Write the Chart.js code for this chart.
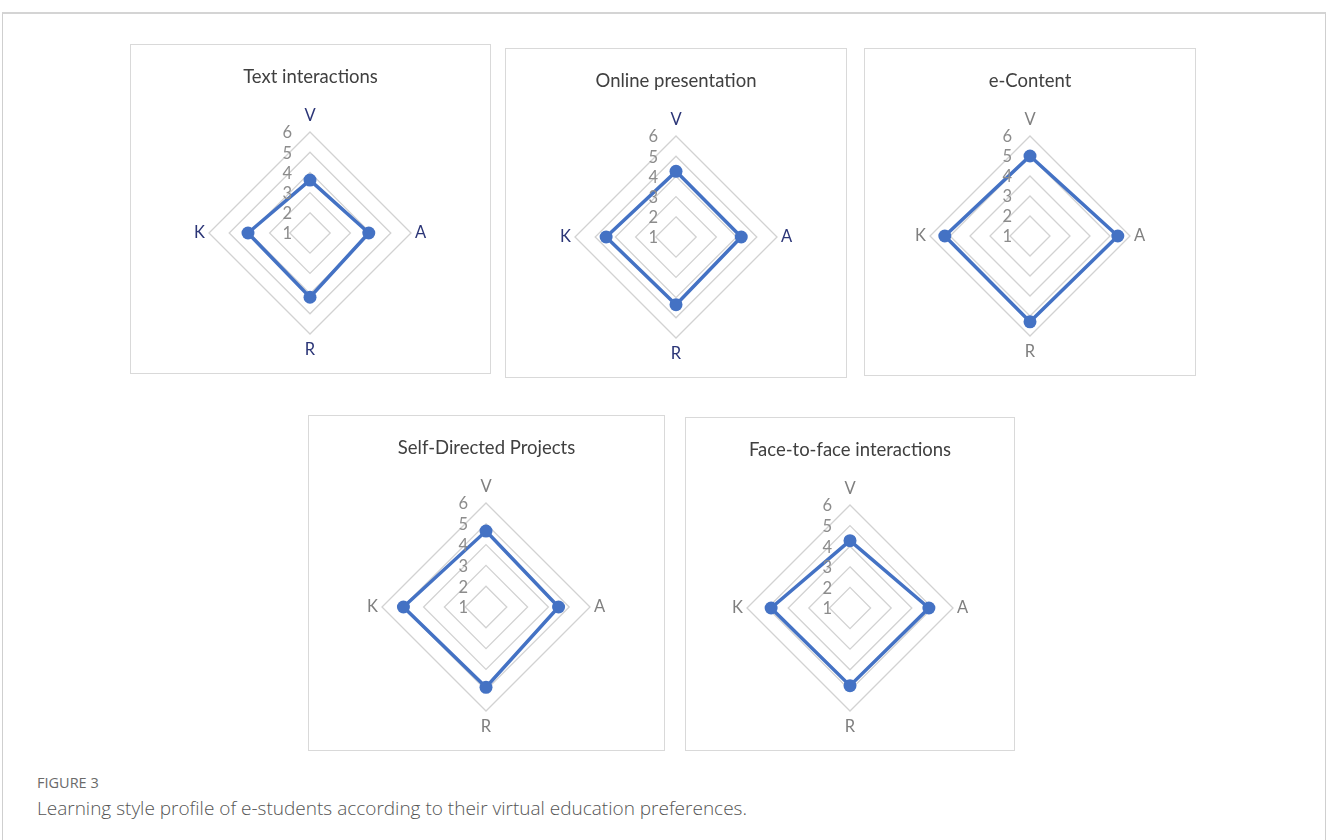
<!DOCTYPE html>
<html>
<head>
<meta charset="utf-8">
<script src="https://cdn.jsdelivr.net/npm/chart.js@4/dist/chart.umd.min.js"></script>
<style>
  body { margin: 0; background: #fff; width: 1328px; height: 840px; overflow: hidden; position: relative; }
  #frame { position: absolute; left: 2px; top: 12px; width: 1322px; height: 900px; border: 1px solid #cfcfcf; border-top: 2px solid #d4d4d4; }
  .panel { position: absolute; border: 1px solid #d9d9d9; background: #fff; }
  .panel canvas { display: block; }
  #figlabel { position: absolute; left: 37px; top: 773px; font-family: "Open Sans", sans-serif; font-size: 14.5px; color: #6a6a6a; }
  #caption { position: absolute; left: 37px; top: 795px; font-family: "Open Sans", sans-serif; font-size: 19px; font-weight: 300; color: #555; }
</style>
</head>
<body>
<div id="frame"></div>
<div id="figlabel">FIGURE 3</div>
<div id="caption">Learning style profile of e-students according to their virtual education preferences.</div>
<script>
// axis labels (clockwise from top) and scale ticks
const axisLabels = ['V', 'A', 'R', 'K'];
const tickValues = [1, 2, 3, 4, 5, 6];

// one series per panel, order V, A, R, K
const textInteractions = [3.62, 3.91, 4.18, 4.07];
const onlinePresentation = [4.25, 4.23, 4.35, 4.46];
const eContent = [5.0, 5.39, 5.29, 5.26];
const selfDirected = [4.65, 4.49, 4.86, 4.97];
const faceToFace = [4.27, 4.83, 4.77, 4.83];

// panel boxes: left, top, width, height, label colour
const panels = [
  { title: 'Text interactions', data: textInteractions, box: [130, 44, 361, 330], labelColor: '#2b3577' },
  { title: 'Online presentation', data: onlinePresentation, box: [505, 48, 342, 330], labelColor: '#2b3577' },
  { title: 'e-Content', data: eContent, box: [864, 48, 332, 328], labelColor: '#7f7f7f' },
  { title: 'Self-Directed Projects', data: selfDirected, box: [308, 415, 357, 336], labelColor: '#7f7f7f' },
  { title: 'Face-to-face interactions', data: faceToFace, box: [685, 417, 330, 334], labelColor: '#7f7f7f' }
];

// draws the 1..6 labels to the left of the vertical axis
const tickLabelPlugin = {
  id: 'tickLabels',
  afterDatasetsDraw(chart) {
    const scale = chart.scales.r;
    const ctx = chart.ctx;
    ctx.save();
    ctx.font = '16.5px Lato';
    ctx.fillStyle = '#8c8c8c';
    ctx.textAlign = 'right';
    ctx.textBaseline = 'middle';
    tickValues.forEach(v => {
      const d = scale.getDistanceFromCenterForValue(v);
      ctx.fillText(String(v), scale.xCenter - 18, scale.yCenter - d + 1);
    });
    ctx.restore();
  }
};

panels.forEach(p => {
  const [x, y, w, h] = p.box;
  const div = document.createElement('div');
  div.className = 'panel';
  div.style.left = x + 'px';
  div.style.top = y + 'px';
  div.style.width = (w - 2) + 'px';
  div.style.height = (h - 2) + 'px';
  const canvas = document.createElement('canvas');
  canvas.width = w - 2;
  canvas.height = h - 2;
  canvas.style.width = (w - 2) + 'px';
  canvas.style.height = (h - 2) + 'px';
  div.appendChild(canvas);
  document.body.appendChild(div);

  new Chart(canvas.getContext('2d'), {
    type: 'radar',
    data: {
      labels: axisLabels,
      datasets: [{
        label: p.title,
        data: p.data,
        borderColor: '#4472c4',
        backgroundColor: '#4472c4',
        borderWidth: 3.5,
        fill: false,
        tension: 0,
        pointRadius: 6.5,
        pointBorderWidth: 0,
        pointBackgroundColor: '#4472c4'
      }]
    },
    options: {
      responsive: false,
      animation: false,
      layout: { padding: { bottom: 13 } },
      scales: {
        r: {
          min: 1,
          max: 6,
          ticks: { display: false, stepSize: 1 },
          angleLines: { display: false },
          grid: { color: '#d2d2d2', lineWidth: 1.3 },
          pointLabels: {
            color: p.labelColor,
            font: { family: 'Lato', size: 16.5 },
            padding: ctx => (ctx.index % 2 === 0 ? 6 : 4)
          }
        }
      },
      plugins: {
        legend: { display: false },
        tooltip: { enabled: false },
        title: {
          display: true,
          text: p.title,
          color: '#404040',
          font: { family: 'Lato', size: 18.5, weight: 'normal' },
          padding: { top: 21, bottom: 18 }
        }
      }
    },
    plugins: [tickLabelPlugin]
  });
});
</script>
</body>
</html>
